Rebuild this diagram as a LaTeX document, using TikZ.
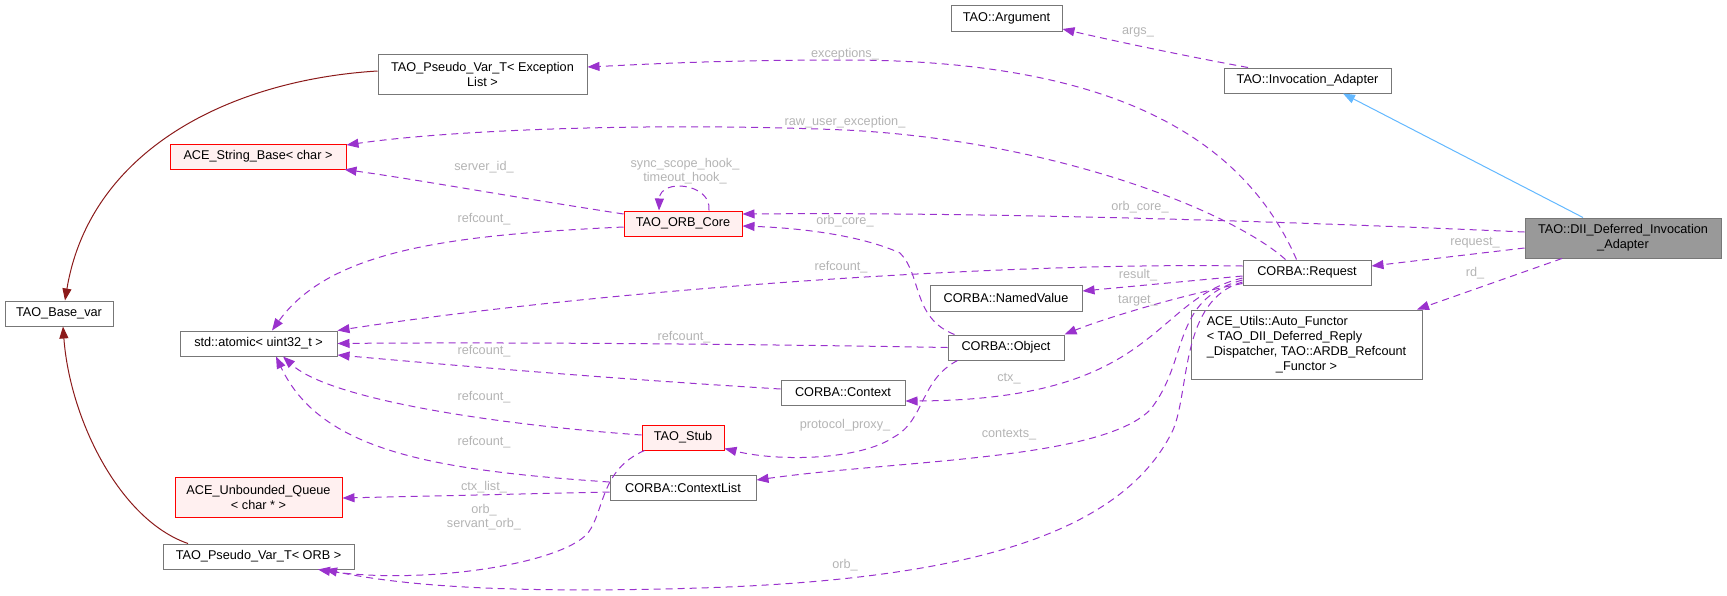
\documentclass[tikz,border=0pt]{standalone}
\usepackage{fontspec}
\setmainfont{Liberation Sans}
\usetikzlibrary{arrows.meta,calc}
\definecolor{edgec}{HTML}{9A32CD}
\definecolor{labelc}{HTML}{B4B4B4}
\definecolor{nodeb}{HTML}{777777}
\definecolor{redfill}{HTML}{FFF0F0}
\definecolor{diifill}{HTML}{999999}
\definecolor{inhblue}{HTML}{63B8FF}
\definecolor{tmplred}{HTML}{8B1A1A}
\begin{document}
\begin{tikzpicture}[x=1pt,y=-1pt,
  every node/.style={font=\fontsize{12.7}{15}\selectfont},
  cls/.style={draw=nodeb, fill=white, line width=1pt, inner sep=0pt, align=center},
  redcls/.style={cls, draw=red, fill=redfill},
  rel/.style={draw=edgec, line width=1pt, dash pattern=on 7pt off 5pt, -{Triangle[length=12pt,width=9pt]}},
  inh/.style={draw=inhblue, line width=1pt, -{Triangle[length=12pt,width=9pt]}},
  tmpl/.style={draw=tmplred, line width=1pt, -{Triangle[length=12pt,width=9pt]}},
  lbl/.style={text=labelc, inner sep=0pt, align=center, font=\fontsize{12.7}{14.5}\selectfont}]
\useasboundingbox (0,0) rectangle (1727,595);

% nodes
\node[cls, fill=diifill, minimum width=196pt, minimum height=40pt] (dii) at (1623,238) {TAO::DII\_Deferred\_Invocation\\\_Adapter};
\node[cls, minimum width=167pt, minimum height=25pt] (invad) at (1307.5,80.5) {TAO::Invocation\_Adapter};
\node[cls, minimum width=111pt, minimum height=26pt] (arg) at (1006.5,18) {TAO::Argument};
\node[cls, minimum width=209pt, minimum height=40pt] (pvex) at (482.5,74) {TAO\_Pseudo\_Var\_T< Exception\\List >};
\node[redcls, minimum width=176pt, minimum height=25pt] (strbase) at (258,156.5) {ACE\_String\_Base< char >};
\node[redcls, minimum width=118pt, minimum height=25pt] (orbcore) at (683,223.5) {TAO\_ORB\_Core};
\node[cls, minimum width=128pt, minimum height=25pt] (req) at (1307,272.5) {CORBA::Request};
\node[cls, minimum width=152pt, minimum height=26pt] (nv) at (1006,298) {CORBA::NamedValue};
\node[cls, minimum width=231pt, minimum height=69pt] (autof) at (1306.5,344.5) {\begin{tabular}{@{}l@{}}ACE\_Utils::Auto\_Functor\\< TAO\_DII\_Deferred\_Reply\\\_Dispatcher, TAO::ARDB\_Refcount\\\multicolumn{1}{@{}c@{}}{\_Functor >}\end{tabular}};
\node[cls, minimum width=108pt, minimum height=25pt] (base) at (59,313.5) {TAO\_Base\_var};
\node[cls, minimum width=157pt, minimum height=25pt] (atomic) at (258.5,343.5) {std::atomic< uint32\_t >};
\node[cls, minimum width=116pt, minimum height=25pt] (obj) at (1006,347.5) {CORBA::Object};
\node[cls, minimum width=124pt, minimum height=25pt] (ctx) at (843,392.5) {CORBA::Context};
\node[redcls, minimum width=82pt, minimum height=25pt] (stub) at (683,437.5) {TAO\_Stub};
\node[cls, minimum width=146pt, minimum height=25pt] (ctxl) at (683,487.5) {CORBA::ContextList};
\node[redcls, minimum width=167pt, minimum height=40pt] (uq) at (258.5,497) {ACE\_Unbounded\_Queue\\< char * >};
\node[cls, minimum width=191pt, minimum height=25pt] (pvorb) at (258.5,556.5) {TAO\_Pseudo\_Var\_T< ORB >};

% inheritance / template edges
\draw[tmpl] ($(pvex.west)+(0,-3)$) .. controls (230,80) and (90,150) .. ($(base.north)+(6,0)$);
\draw[tmpl] ($(pvorb.north)+(-70.5,0)$) .. controls (120,520) and (70,420) .. ($(base.south)+(4,0)$);
\draw[inh] ($(dii.north)+(-40,0)$) -- ($(invad.south)+(35.5,0)$);

% usage edges
\draw[rel] ($(invad.north)+(-59.5,0)$) .. controls (1180,55) and (1110,40) .. ($(arg.east)+(0,11)$);
\draw[rel] ($(req.north west)+(54,0)$) .. controls (1240,130) and (1100,60) .. (845,60) .. controls (720,60) and (650,64) .. ($(pvex.east)+(0,-7)$);
\draw[rel] ($(req.north west)+(43,0)$) .. controls (1230,210) and (1050,140) .. (845,130) .. controls (650,122) and (450,130) .. ($(strbase.east)+(0,-11.5)$);
\draw[rel] ($(orbcore.west)+(0,-9.5)$) .. controls (500,195) and (420,180) .. ($(strbase.south east)+(-2,0)$);
\draw[rel] ($(orbcore.north)+(26,0)$) .. controls (712,183) and (660,178) .. ($(orbcore.north)+(-24,0)$);
\draw[rel] ($(orbcore.west)+(0,3.5)$) .. controls (450,235) and (330,250) .. ($(atomic.north)+(13.5,0)$);
\draw[rel] ($(dii.west)+(0,-6)$) .. controls (1300,222) and (1000,212) .. ($(orbcore.east)+(0,-9.5)$);
\draw[rel] ($(dii.west)+(0,10)$) -- ($(req.east)+(0,-6.5)$);
\draw[rel] ($(dii.south)+(-61,0)$) -- ($(autof.north)+(110.5,0)$);
\draw[rel] ($(req.west)+(0,3.5)$) -- ($(nv.east)+(0,-7)$);
\draw[rel] ($(req.west)+(0,11)$) .. controls (1180,295) and (1100,320) .. (obj.north east);
\draw[rel] ($(req.west)+(0,-6.5)$) .. controls (1000,262) and (600,290) .. (atomic.north east);
\draw[rel] ($(req.west)+(0,5.5)$) .. controls (1150,300) and (1160,400) .. ($(ctx.east)+(0,8.5)$);
\draw[rel] ($(req.west)+(0,7.5)$) .. controls (1170,300) and (1190,360) .. (1150,410) .. controls (1100,460) and (900,460) .. ($(ctxl.east)+(0,-7.5)$);
\draw[rel] ($(req.west)+(0,9.5)$) .. controls (1180,300) and (1190,390) .. (1173,430) .. controls (1120,540) and (950,580) .. (700,588) .. controls (500,594) and (400,585) .. ($(pvorb.south)+(66.5,0)$);
\draw[rel] (obj.west) .. controls (750,344) and (500,342) .. (atomic.east);
\draw[rel] ($(obj.north west)+(7,0)$) .. controls (912,318) and (922,275) .. (900,253) .. controls (860,235) and (800,228) .. ($(orbcore.east)+(0,2.5)$);
\draw[rel] ($(obj.south west)+(10,0)$) .. controls (920,380) and (925,420) .. (894,437) .. controls (860,460) and (780,462) .. ($(stub.south east)+(0,-2)$);
\draw[rel] ($(ctx.west)+(0,-3.5)$) .. controls (600,378) and (450,365) .. ($(atomic.east)+(0,11.5)$);
\draw[rel] ($(stub.west)+(0,-2.5)$) .. controls (500,425) and (330,400) .. ($(atomic.south)+(24.5,0)$);
\draw[rel] ($(ctxl.west)+(0,-5.5)$) .. controls (430,470) and (320,450) .. ($(atomic.south)+(17.5,0)$);
\draw[rel] ($(ctxl.west)+(0,4.5)$) -- ($(uq.east)+(0,1)$);
\draw[rel] ($(stub.south west)+(3,0)$) .. controls (600,470) and (605,510) .. (588,533) .. controls (560,565) and (420,585) .. ($(pvorb.south)+(59.5,0)$);

% labels
\node[lbl] (l1) at (1138,32) {args\_};
\node[lbl] (l2) at (845,54) {exceptions\_};
\node[lbl] (l3) at (845,122) {raw\_user\_exception\_};
\node[lbl] (l4) at (484,167) {server\_id\_};
\node[lbl] (l5) at (685,171) {sync\_scope\_hook\_\\timeout\_hook\_};
\node[lbl] (l6) at (1140,207) {orb\_core\_};
\node[lbl] (l7) at (845,221) {orb\_core\_};
\node[lbl] (l8) at (484,219) {refcount\_};
\node[lbl] (l9) at (1475,243) {request\_};
\node[lbl] (l10) at (841,267) {refcount\_};
\node[lbl] (l11) at (1475,273) {rd\_};
\node[lbl] (l12) at (1138,275) {result\_};
\node[lbl] (l13) at (1138,301) {target\_};
\node[lbl] (l14) at (684,337) {refcount\_};
\node[lbl] (l15) at (484,351) {refcount\_};
\node[lbl] (l16) at (1009,379) {ctx\_};
\node[lbl] (l17) at (484,397) {refcount\_};
\node[lbl] (l18) at (845,425) {protocol\_proxy\_};
\node[lbl] (l19) at (1009,435) {contexts\_};
\node[lbl] (l20) at (484,442) {refcount\_};
\node[lbl] (l21) at (484,487) {ctx\_list\_};
\node[lbl] (l22) at (484,517) {orb\_\\servant\_orb\_};
\node[lbl] (l23) at (845,565) {orb\_};
\end{tikzpicture}
\end{document}
